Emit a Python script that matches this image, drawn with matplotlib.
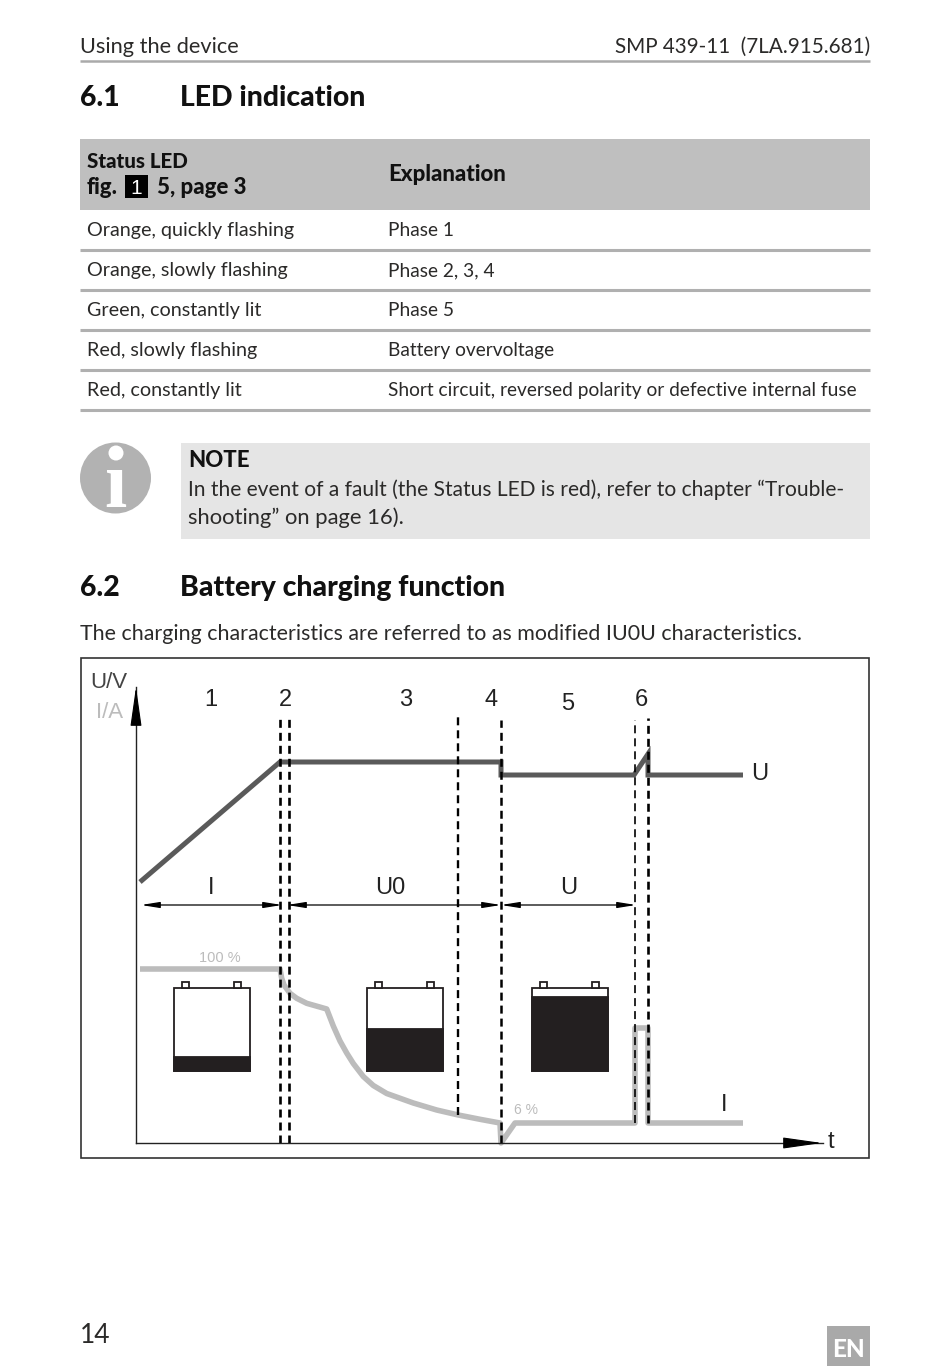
import matplotlib
matplotlib.use("Agg")
import matplotlib.pyplot as plt
from matplotlib.patches import Rectangle, Circle

# page text
header_left = "Using the device"
header_right = "SMP 439-11  (7LA.915.681)"
led_states = ["Orange, quickly flashing", "Orange, slowly flashing", "Green, constantly lit",
              "Red, slowly flashing", "Red, constantly lit"]
led_explain = ["Phase 1", "Phase 2, 3, 4", "Phase 5", "Battery overvoltage",
               "Short circuit, reversed polarity or defective internal fuse"]

# curves (time, level)
u_t = [4, 144, 365, 365, 498, 512, 512, 607]
u_v = [261, 381, 381, 368, 368, 389, 368, 368]
i_t = [4, 144, 145.7, 148, 154, 160.7, 170.7, 190.7, 197.3, 204, 210.7, 217.3, 227.3, 237.3, 250.7, 277.3,
       300.7, 322.3, 344, 364, 365, 379, 499, 499, 512, 512, 607]
i_v = [174, 174, 164.7, 158, 149.7, 144.7, 139.7, 134, 117, 102, 90, 79.5, 66.5, 57.5, 49.5, 40,
       33, 28, 23.7, 20, 0, 20, 20, 115, 115, 20, 20]

# phase boundaries
dash_t = [144, 153, 322, 365, 498.5, 512]
dash_top = [427, 428, 426, 423, 423, 425]
dash_bot = [0, 0, 28, 0, 20, 20]
dash_lw = [1.9, 1.9, 1.7, 1.8, 1.2, 1.9]

# batteries
batt_left = [38, 231, 396]
batt_fill = [86, 114, 146]
batt_top = 155
batt_bot = 72
batt_w = 76

phase_labels = ["1", "2", "3", "4", "5", "6"]
phase_t = [75, 149, 270, 355, 432, 505]
phase_v = [443, 443, 443, 443, 439, 443]

spans = [(5, 146, "I"), (151, 365, "U0"), (365, 500, "U")]

fig = plt.figure(figsize=(9.5, 13.72), dpi=100)
page = fig.add_axes([0, 0, 1, 1])
page.set_xlim(0, 950)
page.set_ylim(1372, 0)
page.axis("off")

LATO = "Lato"
INK = "#2b2a29"
HEAVY = 900


def body(x, y, s, **kw):
    kw.setdefault("fontsize", 15.4)
    kw.setdefault("color", INK)
    page.text(x, y, s, family=LATO, va="baseline", **kw)


body(80, 53, header_left, fontsize=15.7)
body(870, 53, header_right, ha="right", fontsize=14.9)
page.plot([80, 870], [61, 61], color="#aaaaaa", lw=1.8, solid_capstyle="butt")

body(80, 106, "6.1", fontsize=20.4, weight=HEAVY, color="#111111")
body(180, 106, "LED indication", fontsize=20.4, weight=HEAVY, color="#111111")

page.add_patch(Rectangle((80, 139), 790, 71, fc="#bfbfbf", ec="none"))
body(87, 168, "Status LED", weight=HEAVY, color="#111111", fontsize=14.8)
body(87, 194, "fig.", weight=HEAVY, color="#111111", fontsize=16)
page.add_patch(Rectangle((125, 175), 23, 23, fc="black", ec="none"))
page.text(136.5, 194, "1", color="white", fontsize=15, family="Liberation Sans", ha="center", va="baseline")
body(157, 194, "5, page 3", weight=HEAVY, color="#111111", fontsize=16)
body(388, 181, "Explanation", weight=HEAVY, color="#111111", fontsize=16)

for n, (a, b) in enumerate(zip(led_states, led_explain)):
    body(87, 236 + 40 * n, a, fontsize=14.2)
    body(388, 236 + 40 * n, b, fontsize=13.75)
    page.plot([80, 870], [250 + 40 * n] * 2, color="#b0b0b0", lw=2.2, solid_capstyle="butt")

# note box
page.add_patch(Circle((115.5, 478), 35.5, fc="#b2b2b2", ec="none"))
page.text(115.5, 507, "\u0131", color="white", fontsize=58, family="Liberation Serif", weight="bold",
          ha="center", va="baseline")
page.add_patch(Circle((116, 453), 7.5, fc="white", ec="none"))
page.add_patch(Rectangle((181, 443), 689, 96, fc="#e5e5e5", ec="none"))
body(188, 467, "NOTE", weight=HEAVY, color="#111111", fontsize=16)
body(188, 496, "In the event of a fault (the Status LED is red), refer to chapter \u201cTrouble-", fontsize=15.15)
body(188, 524, "shooting\u201d on page 16).", fontsize=15.8)

body(80, 596, "6.2", fontsize=20.4, weight=HEAVY, color="#111111")
body(180, 596, "Battery charging function", fontsize=20.4, weight=HEAVY, color="#111111")
body(80, 640, "The charging characteristics are referred to as modified IU0U characteristics.")

page.add_patch(Rectangle((81, 658), 788, 500, fc="white", ec="#333333", lw=1.2))

body(80, 1343, "14", fontsize=19)
page.add_patch(Rectangle((827, 1326), 43, 40, fc="#a9a9a9", ec="none"))
body(848.5, 1357, "EN", fontsize=17.5, weight=HEAVY, color="white", ha="center")

# chart: origin of the axes sits on the drawn U/I and t axes
ax = fig.add_axes([136 / 950, (1372 - 1143) / 1372, 687 / 950, 456 / 1372])
ax.set_xlim(0, 687)
ax.set_ylim(0, 456)
ax.patch.set_alpha(0)
ax.set_xticks([])
ax.set_yticks([])
for side in ["top", "right"]:
    ax.spines[side].set_visible(False)
for side in ["left", "bottom"]:
    ax.spines[side].set_linewidth(1.0)
    ax.spines[side].set_color("#222222")

big_head = "-|>,head_length=1.9,head_width=0.27"
ax.annotate("", xy=(0, 456), xytext=(0, 425), annotation_clip=False,
            arrowprops=dict(arrowstyle=big_head, color="black", lw=0.8, shrinkA=0, shrinkB=0, mutation_scale=13))
ax.annotate("", xy=(686, 0), xytext=(655, 0), annotation_clip=False,
            arrowprops=dict(arrowstyle=big_head, color="black", lw=0.8, shrinkA=0, shrinkB=0, mutation_scale=13))

for left, fill in zip(batt_left, batt_fill):
    ax.add_patch(Rectangle((left, batt_bot), batt_w, batt_top - batt_bot, fc="white", ec="#231f20", lw=1.3))
    ax.add_patch(Rectangle((left, batt_bot), batt_w, fill - batt_bot, fc="#231f20", ec="#231f20", lw=1.3))
    for off in [8, 60]:
        ax.add_patch(Rectangle((left + off, batt_top), 7, 6, fc="white", ec="#231f20", lw=1.3))

ax.plot(i_t, i_v, color="#bcbcbc", lw=4, solid_joinstyle="round", solid_capstyle="butt", clip_on=False)
ax.plot(u_t, u_v, color="#5a5a5a", lw=3.6, solid_joinstyle="miter", solid_capstyle="butt")

for t, top, bot, lw in zip(dash_t, dash_top, dash_bot, dash_lw):
    ax.plot([t, t], [bot, top], color="black", lw=lw, dashes=(8 / (lw * 1.39), 5 / (lw * 1.39)))

for s, t, v in zip(phase_labels, phase_t, phase_v):
    ax.text(t, v, s, ha="center", va="center", fontsize=17, family="Liberation Sans", color="#222222")

for a, b, s in spans:
    ax.annotate("", xy=(a, 238), xytext=(b, 238),
                arrowprops=dict(arrowstyle="<|-|>,head_length=1.0,head_width=0.16", color="black", lw=0.9, shrinkA=0, shrinkB=0, mutation_scale=11))
    ax.text((a + b) / 2 + (0 if s != "U0" else -4), 255, s, ha="center", va="center", fontsize=17,
            family="Liberation Sans", color="#222222")

txt = dict(family="Liberation Sans", va="center")
ax.text(-46, 461, "U/V", ha="left", fontsize=16, color="#444444", clip_on=False, **txt)
ax.text(-40, 430, "I/A", ha="left", fontsize=16, color="#bcbcbc", **txt)
ax.text(84, 185, "100 %", ha="center", fontsize=10.5, color="#bcbcbc", **txt)
ax.text(390, 33, "6 %", ha="center", fontsize=10, color="#bcbcbc", **txt)
ax.text(624, 369, "U", ha="center", fontsize=17, color="#222222", **txt)
ax.text(588, 38, "I", ha="center", fontsize=17, color="#222222", **txt)
ax.text(695, 1, "t", ha="center", fontsize=17, color="#222222", clip_on=False, **txt)

fig.savefig("out.png", dpi=100)
